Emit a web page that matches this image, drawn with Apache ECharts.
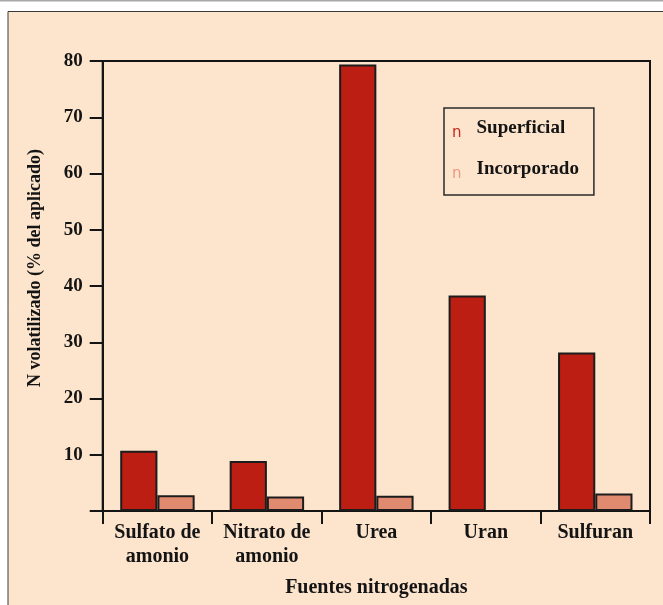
<!DOCTYPE html>
<html>
<head>
<meta charset="utf-8">
<script src="https://cdn.jsdelivr.net/npm/echarts@6/dist/echarts.min.js"></script>
<style>
  html, body { margin: 0; padding: 0; background: #fff; }
  #chart { width: 663px; height: 605px; }
</style>
</head>
<body>
<div id="chart"></div>
<script>
const categories = ['Sulfato de\namonio', 'Nitrato de\namonio', 'Urea', 'Uran', 'Sulfuran']
const superficial = [10.7, 8.9, 79.4, 38.3, 28.2]
const incorporado = [2.8, 2.6, 2.7, null, 3.1]
const yTicks = [0, 10, 20, 30, 40, 50, 60, 70, 80]
const seriesNames = ['Superficial', 'Incorporado']

const serif = '"Liberation Serif", "DejaVu Serif", serif'
const ink = '#141414'

const chart = echarts.init(document.getElementById('chart'))

const option = {
  backgroundColor: '#fff',
  animation: false,
  graphic: [
    // marco gris superior y panel color durazno
    { type: 'rect', z: -10, shape: { x: 0, y: 0, width: 663, height: 1.5 }, style: { fill: '#a8a8a8' } },
    { type: 'rect', z: -10, shape: { x: 8, y: 11.5, width: 700, height: 700 },
      style: { fill: '#fde4cd', stroke: '#3a3a3a', lineWidth: 1 } }
  ],
  legend: {
    data: seriesNames,
    orient: 'vertical',
    left: 444,
    top: 108,
    icon: 'none',
    itemWidth: 0,
    itemHeight: 20,
    itemGap: 19,
    padding: [10, 15, 13, 3],
    borderColor: '#2a2a2a',
    borderWidth: 1.5,
    selectedMode: false,
    formatter: (name) => `{m${seriesNames.indexOf(name)}|n}{t|${name}}`,
    textStyle: {
      rich: {
        m0: { color: '#c8281c', fontFamily: '"DejaVu Sans", sans-serif', fontSize: 15, padding: [10, 15, 0, 0] },
        m1: { color: '#ec9a82', fontFamily: '"DejaVu Sans", sans-serif', fontSize: 15, padding: [10, 15, 0, 0] },
        t: { color: ink, fontFamily: serif, fontWeight: 'bold', fontSize: 19 }
      }
    }
  },
  grid: {
    left: 102.7,
    right: 13,
    top: 61,
    bottom: 94,
    show: true,
    borderColor: ink,
    borderWidth: 2,
    containLabel: false
  },
  xAxis: {
    type: 'category',
    data: categories,
    name: 'Fuentes nitrogenadas',
    nameLocation: 'middle',
    nameGap: 67,
    nameTextStyle: { color: ink, fontFamily: serif, fontWeight: 'bold', fontSize: 20 },
    axisLine: { lineStyle: { color: ink, width: 2 } },
    axisTick: { show: true, inside: false, length: 13, lineStyle: { color: ink, width: 2 } },
    axisLabel: {
      color: ink, fontFamily: serif, fontWeight: 'bold', fontSize: 20,
      lineHeight: 24, margin: 10, interval: 0
    },
    splitLine: { show: false }
  },
  yAxis: {
    type: 'value',
    min: yTicks[0],
    max: yTicks[yTicks.length - 1],
    interval: 10,
    name: 'N volatilizado (% del aplicado)',
    nameLocation: 'middle',
    nameGap: 58,
    nameTextStyle: { color: ink, fontFamily: serif, fontWeight: 'bold', fontSize: 18, padding: [0, 0, 0, 36] },
    axisLine: { show: true, lineStyle: { color: ink, width: 2 } },
    axisTick: { show: true, inside: false, length: 13, lineStyle: { color: ink, width: 2 } },
    axisLabel: {
      color: ink, fontFamily: serif, fontWeight: 'bold', fontSize: 19, margin: 20,
      formatter: (v) => (v === 0 ? '' : String(v))
    },
    splitLine: { show: false }
  },
  series: [
    {
      name: seriesNames[0],
      type: 'bar',
      data: superficial,
      barGap: '0%',
      barCategoryGap: '32%',
      itemStyle: { color: '#bd1e13', borderColor: '#1c1c1c', borderWidth: 2 }
    },
    {
      name: seriesNames[1],
      type: 'bar',
      data: incorporado,
      itemStyle: { color: '#e08b70', borderColor: '#1c1c1c', borderWidth: 2 }
    }
  ]
}

chart.setOption(option)
</script>
</body>
</html>
